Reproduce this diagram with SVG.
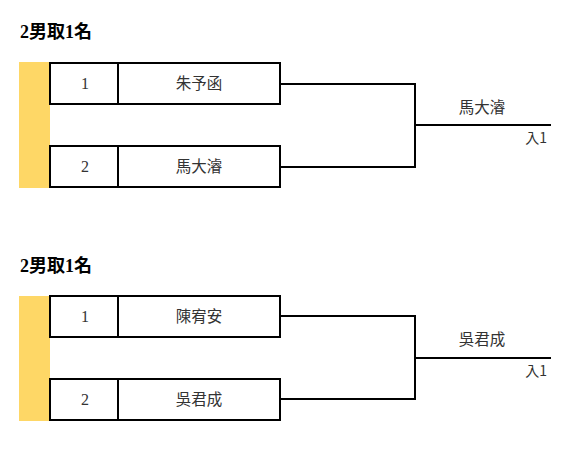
<svg xmlns="http://www.w3.org/2000/svg" width="584" height="461" viewBox="0 0 584 461">
<style>
.title{font-family:"Liberation Serif","Noto Sans CJK TC",serif;font-weight:bold;font-size:18px;fill:#000}
.box{fill:#fff;stroke:#000;stroke-width:2}
.bar{fill:#fed766}
.num{font-family:"Liberation Serif",serif;font-size:16px;fill:#333;text-anchor:middle}
.name{font-family:"Noto Sans CJK TC",sans-serif;font-size:15.5px;fill:#333;text-anchor:middle}
.seed{font-family:"Noto Sans CJK TC","Liberation Serif",sans-serif;font-size:14px;fill:#333;text-anchor:end}
.ln{fill:none;stroke:#000;stroke-width:2}
</style>
<rect width="584" height="461" fill="#fff"/>
<text class="title" x="20" y="38">2男取1名</text>
<text class="title" x="20" y="272">2男取1名</text>
<rect class="bar" x="19" y="62" width="31" height="126"/>
<rect class="bar" x="19" y="296" width="31" height="125"/>
<g id="m1p1"><rect class="box" x="50" y="63" width="230" height="41"/><line class="ln" x1="118" y1="63" x2="118" y2="104"/><text class="num" x="85" y="89">1</text><text class="name" x="199" y="89">朱予函</text></g>
<g id="m1p2"><rect class="box" x="50" y="146" width="230" height="41"/><line class="ln" x1="118" y1="146" x2="118" y2="187"/><text class="num" x="85" y="172">2</text><text class="name" x="199" y="172">馬大濬</text></g>
<g id="m1w"><text class="name" x="482" y="113">馬大濬</text><text class="seed" x="547" y="143">入1</text></g>
<g id="m2p1"><rect class="box" x="50" y="296" width="230" height="41"/><line class="ln" x1="118" y1="296" x2="118" y2="337"/><text class="num" x="85" y="322">1</text><text class="name" x="199" y="322">陳宥安</text></g>
<g id="m2p2"><rect class="box" x="50" y="379" width="230" height="41"/><line class="ln" x1="118" y1="379" x2="118" y2="420"/><text class="num" x="85" y="405">2</text><text class="name" x="199" y="405">吳君成</text></g>
<g id="m2w"><text class="name" x="482" y="345">吳君成</text><text class="seed" x="547" y="376">入1</text></g>
<g id="connectors">
<path class="ln" d="M280 84H415V167H280M415 125H551"/>
<path class="ln" d="M280 316H415V399H280M415 358H551"/>
</g>
</svg>
